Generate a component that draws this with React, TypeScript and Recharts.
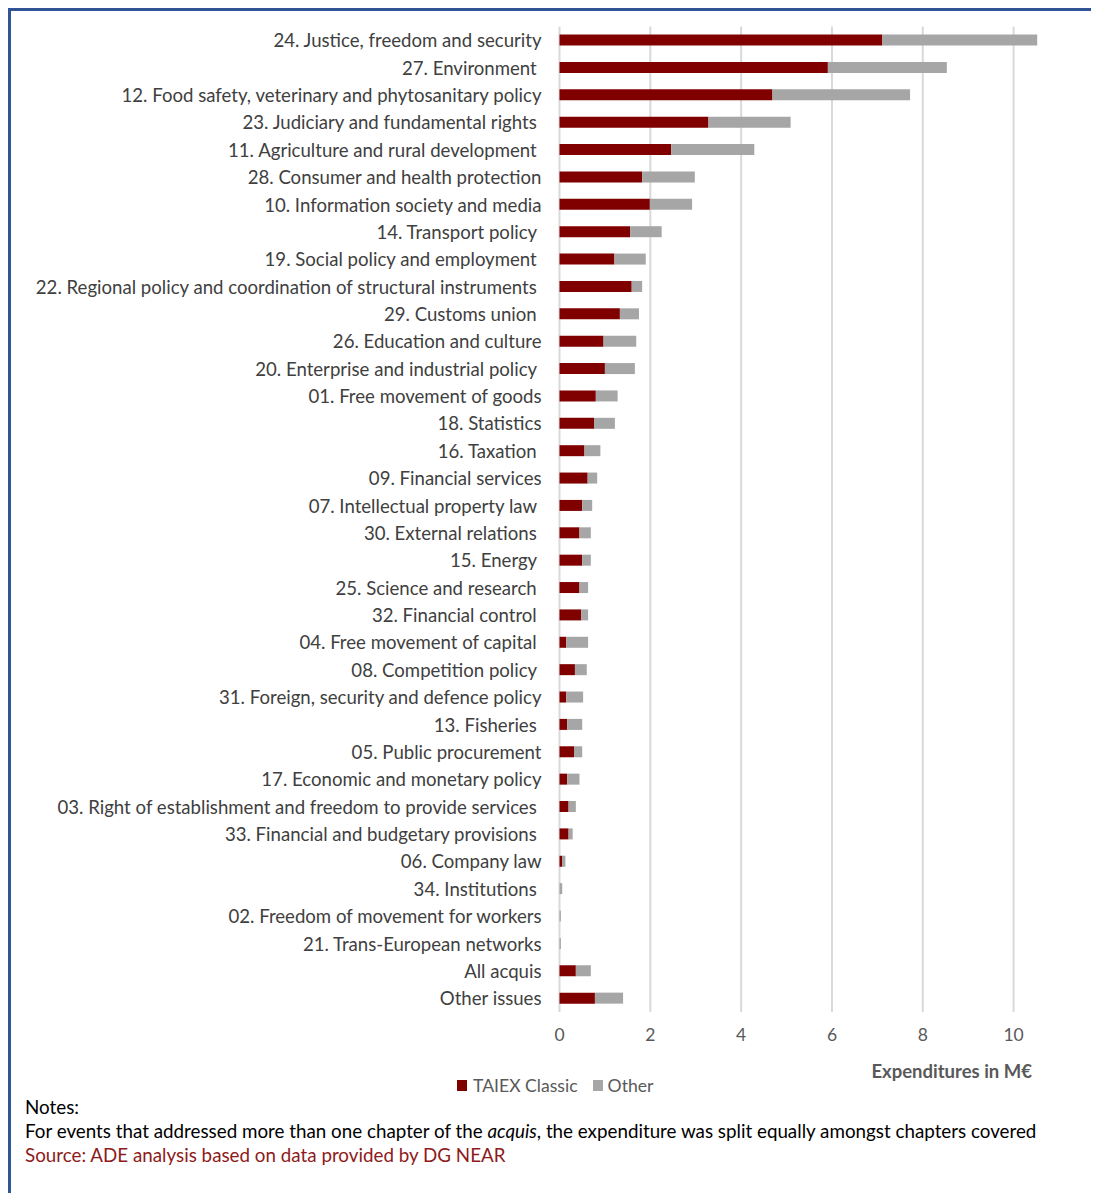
import { BarChart, Bar, XAxis, YAxis, CartesianGrid } from "recharts";

const chapters = [
  "24. Justice, freedom and security",
  "27. Environment ",
  "12. Food safety, veterinary and phytosanitary policy",
  "23. Judiciary and fundamental rights ",
  "11. Agriculture and rural development ",
  "28. Consumer and health protection",
  "10. Information society and media",
  "14. Transport policy ",
  "19. Social policy and employment ",
  "22. Regional policy and coordination of structural instruments ",
  "29. Customs union ",
  "26. Education and culture",
  "20. Enterprise and industrial policy ",
  "01. Free movement of goods",
  "18. Statistics",
  "16. Taxation ",
  "09. Financial services",
  "07. Intellectual property law ",
  "30. External relations ",
  "15. Energy ",
  "25. Science and research ",
  "32. Financial control ",
  "04. Free movement of capital ",
  "08. Competition policy ",
  "31. Foreign, security and defence policy",
  "13. Fisheries ",
  "05. Public procurement",
  "17. Economic and monetary policy",
  "03. Right of establishment and freedom to provide services ",
  "33. Financial and budgetary provisions ",
  "06. Company law",
  "34. Institutions ",
  "02. Freedom of movement for workers",
  "21. Trans-European networks",
  "All acquis",
  "Other issues",
];

const taiexClassic = [
  7.11, 5.91, 4.69, 3.28, 2.46, 1.82, 1.99, 1.56, 1.21, 1.59, 1.33, 0.97,
  1.0, 0.8, 0.76, 0.55, 0.62, 0.5, 0.44, 0.5, 0.44, 0.48, 0.15, 0.34, 0.15,
  0.17, 0.32, 0.17, 0.2, 0.2, 0.055, 0, 0, 0, 0.36, 0.78,
];

const other = [
  3.41, 2.62, 3.03, 1.81, 1.83, 1.16, 0.93, 0.69, 0.69, 0.23, 0.42, 0.72,
  0.66, 0.48, 0.46, 0.35, 0.21, 0.22, 0.25, 0.19, 0.19, 0.15, 0.48, 0.26,
  0.37, 0.33, 0.18, 0.27, 0.16, 0.09, 0.075, 0.06, 0.03, 0.03, 0.33, 0.62,
];

const xTicks = [0, 2, 4, 6, 8, 10];

const data = chapters.map((name, i) => ({
  name,
  taiex: taiexClassic[i],
  other: other[i],
}));

const FONT = "Lato, 'Noto Sans', sans-serif";
const RED = "#800000";
const GREY = "#A6A6A6";
const TEXT = "#595959";

function ChapterTick(props: any) {
  const { x, y, payload } = props;
  return (
    <text
      x={x}
      y={y}
      textAnchor="end"
      dominantBaseline="central"
      fill="#404040"
      fontSize={18.6}
      fontFamily={FONT}
      style={{ whiteSpace: "pre" }}
    >
      {payload.value}
    </text>
  );
}

export default function App() {
  return (
    <div style={{ position: "relative", width: 1091, height: 1185, fontFamily: FONT }}>
      <div style={{ position: "absolute", left: -1, top: -1, width: 1092, height: 4, background: "#2F5597" }} />
      <div style={{ position: "absolute", left: -1, top: -1, width: 4, height: 1186, background: "#2F5597" }} />

      <div style={{ position: "absolute", left: 0, top: 0 }}>
        <BarChart
          width={1091}
          height={1050}
          data={data}
          layout="vertical"
          margin={{ top: 18.6, right: 40, left: 0, bottom: 6 }}
        >
          <CartesianGrid
            horizontal={false}
            stroke="#D9D9D9"
            strokeWidth={2}
            syncWithTicks
          />
          <XAxis
            type="number"
            domain={[0, 11]}
            ticks={xTicks}
            axisLine={false}
            tickLine={false}
            height={40}
            tickMargin={11}
            tick={{ fontSize: 17.5, fill: TEXT, fontFamily: FONT }}
          />
          <YAxis
            type="category"
            dataKey="name"
            width={551.5}
            interval={0}
            axisLine={false}
            tickLine={false}
            tickMargin={12}
            tick={<ChapterTick />}
          />
          <Bar dataKey="taiex" stackId="a" fill={RED} barSize={11} isAnimationActive={false} />
          <Bar dataKey="other" stackId="a" fill={GREY} barSize={11} isAnimationActive={false} />
        </BarChart>
      </div>

      <div
        style={{
          position: "absolute",
          right: 1091 - 1024,
          top: 1053,
          fontSize: 18.5,
          lineHeight: "20px",
          fontWeight: 700,
          color: TEXT,
          whiteSpace: "nowrap",
        }}
      >
        Expenditures in M€
      </div>

      <div
        style={{
          position: "absolute",
          left: 449,
          top: 1066,
          height: 22,
          display: "flex",
          alignItems: "center",
          fontSize: 17.6,
          color: TEXT,
          whiteSpace: "nowrap",
        }}
      >
        <span style={{ width: 10, height: 11, background: RED, marginRight: 6 }} />
        <span style={{ marginRight: 15 }}>TAIEX Classic</span>
        <span style={{ width: 10, height: 11, background: GREY, marginRight: 5 }} />
        <span>Other</span>
      </div>

      <div
        style={{
          position: "absolute",
          left: 17,
          top: 1087,
          fontSize: 18.8,
          lineHeight: "24px",
          color: "#000",
          whiteSpace: "nowrap",
        }}
      >
        <div>Notes:</div>
        <div>
          For events that addressed more than one chapter of the <i>acquis</i>, the expenditure was split
          equally amongst chapters covered
        </div>
        <div style={{ color: "#8E1B1B" }}>Source: ADE analysis based on data provided by DG NEAR</div>
      </div>
    </div>
  );
}
